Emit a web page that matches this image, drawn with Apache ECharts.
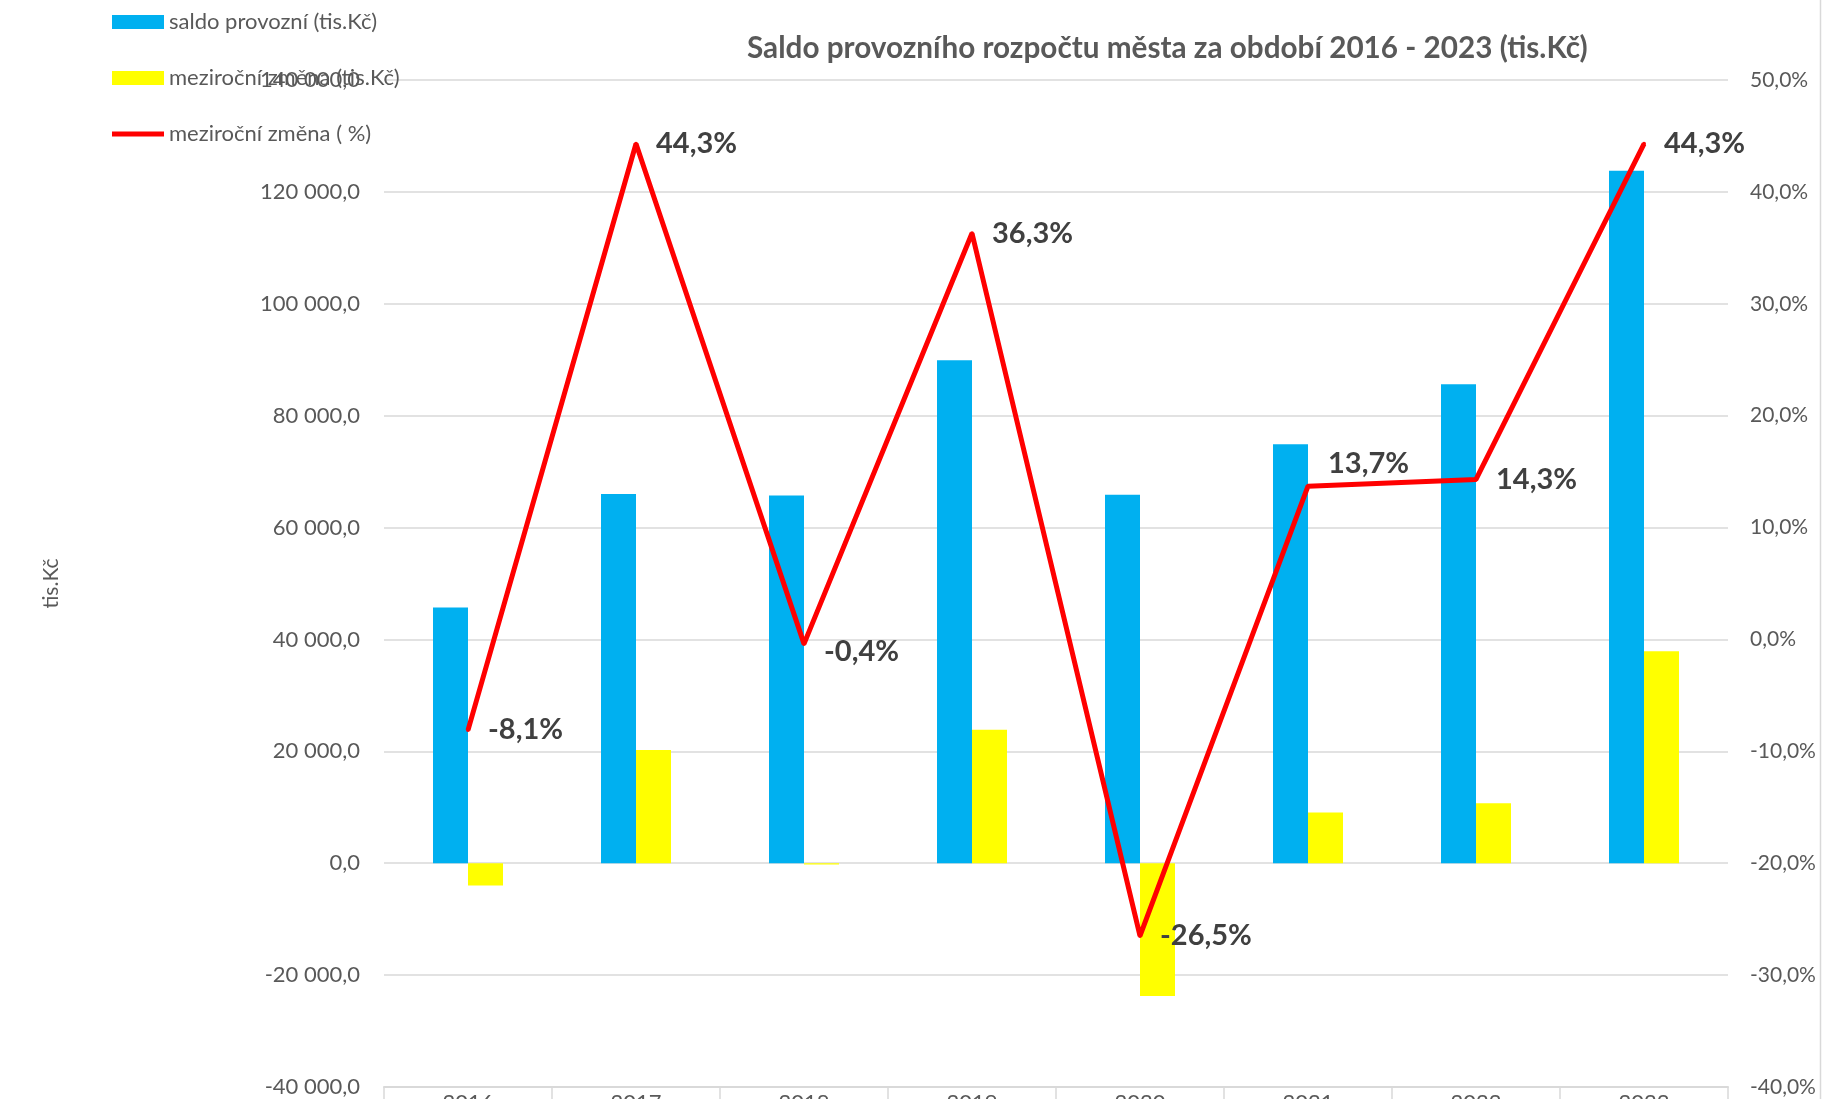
<!DOCTYPE html>
<html>
<head>
<meta charset="utf-8">
<script src="https://cdn.jsdelivr.net/npm/echarts@6/dist/echarts.min.js"></script>
<style>
    html, body { margin: 0; padding: 0; background: #fff; }
    #chart { width: 1823px; height: 1099px; }
</style>
</head>
<body>
<div id="chart"></div>
<script>
// data
const years = ['2016', '2017', '2018', '2019', '2020', '2021', '2022', '2023'];
const saldo = [45700, 66000, 65750, 89900, 65850, 74900, 85600, 123800];
const zmena = [-4000, 20250, -250, 23850, -23750, 9050, 10700, 37900];
const zmenaPct = [-8.1, 44.3, -0.4, 36.3, -26.5, 13.7, 14.3, 44.3];

const FONT = 'Lato';
const GREY = '#595959';
const GRID = '#d9d9d9';

// 120000 -> "120 000,0"
function fmtKc(v) {
    const neg = v < 0;
    const s = String(Math.abs(Math.round(v))).replace(/\B(?=(\d{3})+(?!\d))/g, ' ');
    return (neg ? '-' : '') + s + ',0';
}

function fmtPct(v) {
    return v.toFixed(1).replace('.', ',') + '%';
}

document.addEventListener('DOMContentLoaded', function() {
    const chart = echarts.init(document.getElementById('chart'));

    // 2021 label sits above its point in the original
    const pctData = zmenaPct.map((v, i) => {
        if (i === 5) return { value: v, label: { offset: [0, -23] } };
        if (i === 2) return { value: v, label: { offset: [0, 8] } };
        return v;
    });

    const option = {
        backgroundColor: '#fff',
        animation: false,
        title: {
            text: 'Saldo provozního rozpočtu města za období 2016 - 2023 (tis.Kč)',
            left: 742,
            top: 28,
            textStyle: { fontFamily: FONT, fontSize: 29.7, fontWeight: 'bold', color: GREY }
        },
        legend: {
            orient: 'vertical',
            left: 107,
            top: 6,
            itemWidth: 52,
            itemHeight: 14,
            itemGap: 34,
            textStyle: { fontFamily: FONT, fontSize: 22, color: GREY, lineHeight: 20 },
            data: [
                { name: 'saldo provozní (tis.Kč)', icon: 'rect' },
                { name: 'meziroční změna (tis.Kč)', icon: 'rect' },
                { name: 'meziroční změna ( %)', icon: 'path://M0,0H52V5H0Z' }
            ]
        },
        grid: { left: 384, right: 95, top: 80, bottom: 12, outerBoundsMode: 'none' },
        xAxis: {
            type: 'category',
            data: years,
            axisLine: { onZero: false, lineStyle: { color: GRID, width: 2 } },
            axisTick: { show: true, length: 20, lineStyle: { color: GRID, width: 1.5 } },
            axisLabel: { fontFamily: FONT, fontSize: 22, color: GREY, margin: 5 }
        },
        yAxis: [
            {
                type: 'value',
                min: -40000,
                max: 140000,
                interval: 20000,
                name: 'tis.Kč',
                nameLocation: 'middle',
                nameRotate: 90,
                nameGap: 322,
                nameTextStyle: { fontFamily: FONT, fontSize: 21, color: GREY },
                axisLine: { show: false },
                axisTick: { show: false },
                axisLabel: { fontFamily: FONT, fontSize: 22, color: GREY, margin: 24, formatter: fmtKc },
                splitLine: { lineStyle: { color: GRID, width: 1.5 } }
            },
            {
                type: 'value',
                min: -40,
                max: 50,
                interval: 10,
                axisLine: { show: false },
                axisTick: { show: false },
                axisLabel: { fontFamily: FONT, fontSize: 21, color: GREY, margin: 22, formatter: v => fmtPct(v) },
                splitLine: { show: false }
            }
        ],
        series: [
            {
                name: 'saldo provozní (tis.Kč)',
                type: 'bar',
                data: saldo,
                barWidth: 35,
                barGap: '0%',
                itemStyle: { color: '#00B0F0' }
            },
            {
                name: 'meziroční změna (tis.Kč)',
                type: 'bar',
                data: zmena,
                barWidth: 35,
                barGap: '0%',
                itemStyle: { color: '#FFFF00' }
            },
            {
                name: 'meziroční změna ( %)',
                type: 'line',
                yAxisIndex: 1,
                data: pctData,
                symbol: 'circle',
                symbolSize: 4,
                itemStyle: { color: '#FF0000' },
                lineStyle: { color: '#FF0000', width: 5 },
                label: {
                    show: true,
                    position: 'right',
                    distance: 18,
                    fontFamily: FONT,
                    fontSize: 29,
                    fontWeight: 'bold',
                    color: '#404040',
                    formatter: p => fmtPct(p.value)
                },
                z: 5
            }
        ],
        graphic: [
            {
                type: 'line',
                shape: { x1: 1820.5, y1: 0, x2: 1820.5, y2: 1099 },
                style: { stroke: GRID, lineWidth: 1.5 }
            }
        ]
    };

    chart.setOption(option);
});
</script>
</body>
</html>
